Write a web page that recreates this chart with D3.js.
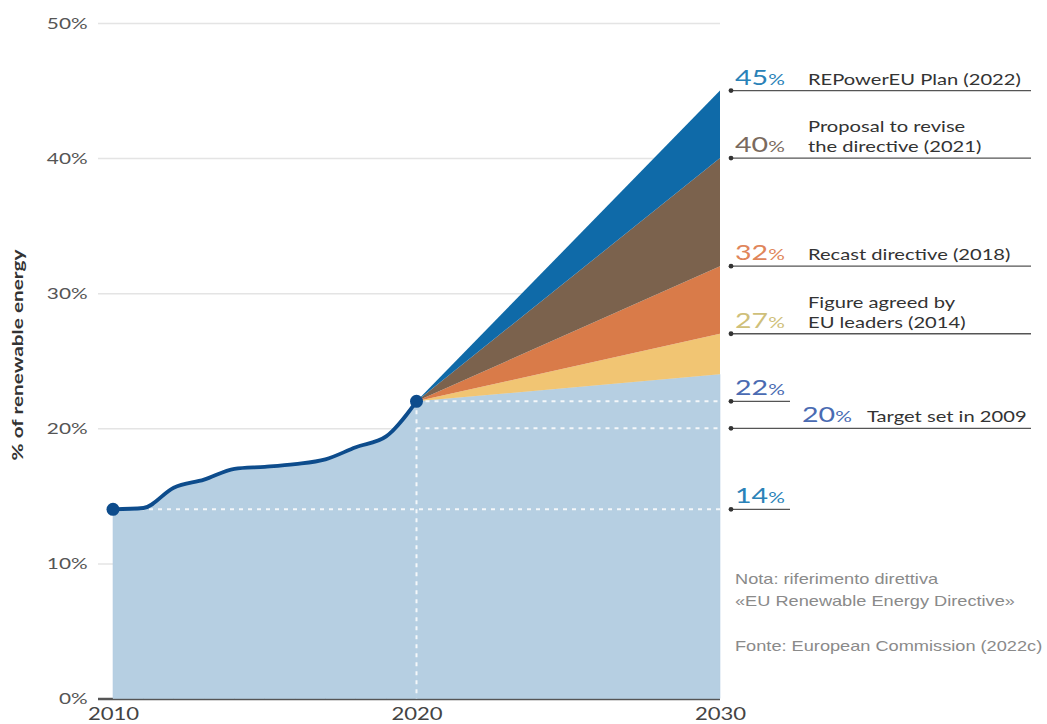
<!DOCTYPE html>
<html>
<head>
<meta charset="utf-8">
<script src="https://cdn.jsdelivr.net/npm/d3@7"></script>
<style>
  body { margin: 0; background: #fff; }
  svg { display: block; font-family: Lato, "Open Sans", sans-serif; }
</style>
</head>
<body>
<svg id="chart" width="1047" height="724"></svg>
<script>
// Quota di energia rinnovabile nell'UE: serie storica e obiettivi al 2030

// Serie storica (%)
const years = [2010, 2011, 2012, 2013, 2014, 2015, 2016, 2017, 2018, 2019, 2020];
const shares = [14.0, 14.1, 15.6, 16.2, 17.0, 17.15, 17.35, 17.7, 18.6, 19.4, 22.0];

// Scenari al 2030
const targetYears = [2020, 2030];
const base2030 = 24;
const targetValues = [27, 32, 40, 45];
const targetColors = ["#f1c573", "#d97b49", "#7b624d", "#0f6aa8"];

// Etichette a destra
const annoValues = [45, 40, 32, 27, 22, 20, 14];
const annoTexts = [
  ["REPowerEU Plan (2022)"],
  ["Proposal to revise", "the directive (2021)"],
  ["Recast directive (2018)"],
  ["Figure agreed by", "EU leaders (2014)"],
  [],
  ["Target set in 2009"],
  []
];
const annoColors = ["#2a82b8", "#7a6a5e", "#e0855a", "#cfc07a", "#4a6bb2", "#4a6bb2", "#2a82b8"];

const yTicks = [0, 10, 20, 30, 40, 50];
const xTicks = [2010, 2020, 2030];

// i testi del grafico sono leggermente allargati in orizzontale
const stretch = 1.3;

const svg = d3.select("#chart");

const x = d3.scaleLinear().domain([2010, 2030]).range([113, 720]);
const y = d3.scaleLinear().domain([0, 50]).range([698.5, 23]);
const gridLeft = 98;

function wideText(parent, tx, ty) {
  return parent.append("text")
    .attr("transform", `translate(${tx},${ty}) scale(${stretch},1)`);
}

// Griglia e asse Y
const yAxis = svg.append("g")
  .attr("transform", `translate(${gridLeft},0)`)
  .call(d3.axisLeft(y)
    .tickValues(yTicks)
    .tickFormat(d => d + "%")
    .tickSize(-(x(2030) - gridLeft))
    .tickPadding(8));
yAxis.select(".domain").remove();
yAxis.selectAll(".tick line")
  .attr("stroke", d => d === 0 ? "#555" : "#e4e4e4")
  .attr("stroke-width", d => d === 0 ? 2.5 : 1.5);
yAxis.selectAll(".tick text")
  .attr("fill", "#555")
  .attr("transform", `scale(${stretch},1)`)
  .style("font-size", "16px")
  .style("font-family", "Lato, sans-serif");

// Area storica sotto la curva
const hist = years.map((yr, i) => ({ year: yr, value: shares[i] }));
const histArea = d3.area()
  .x(d => x(d.year))
  .y0(y(0))
  .y1(d => y(d.value))
  .curve(d3.curveMonotoneX);

svg.append("path")
  .datum(hist)
  .attr("d", histArea)
  .attr("fill", "#b6cfe2")
  .attr("stroke", "#b6cfe2")
  .attr("stroke-width", 0.6);

// Base della proiezione 2020-2030
const last = shares[shares.length - 1];
const baseData = [{ year: targetYears[0], value: last }, { year: targetYears[1], value: base2030 }];
svg.append("path")
  .datum(baseData)
  .attr("d", d3.area().x(d => x(d.year)).y0(y(0)).y1(d => y(d.value)))
  .attr("fill", "#b6cfe2")
  .attr("stroke", "#b6cfe2")
  .attr("stroke-width", 0.6);

// Ventagli degli obiettivi
const wedgeArea = d3.area()
  .x(d => x(d.year))
  .y0(d => y(d.lo))
  .y1(d => y(d.hi));

let prev = base2030;
targetValues.forEach((v, i) => {
  const data = [
    { year: targetYears[0], lo: last, hi: last },
    { year: targetYears[1], lo: prev, hi: v }
  ];
  svg.append("path")
    .datum(data)
    .attr("d", wedgeArea)
    .attr("fill", targetColors[i]);
  prev = v;
});

// Linee tratteggiate bianche
const dash = svg.append("g")
  .attr("stroke", "#fff")
  .attr("stroke-width", 2)
  .attr("stroke-dasharray", "4,5")
  .attr("opacity", 0.85);
dash.append("line")
  .attr("x1", x(2010)).attr("x2", x(2030))
  .attr("y1", y(shares[0])).attr("y2", y(shares[0]));
dash.append("line")
  .attr("x1", x(2020)).attr("x2", x(2030))
  .attr("y1", y(last)).attr("y2", y(last));
dash.append("line")
  .attr("x1", x(2020)).attr("x2", x(2030))
  .attr("y1", y(20)).attr("y2", y(20));
dash.append("line")
  .attr("x1", x(2020)).attr("x2", x(2020))
  .attr("y1", y(last)).attr("y2", y(0));

// Curva storica
const line = d3.line()
  .x(d => x(d.year))
  .y(d => y(d.value))
  .curve(d3.curveMonotoneX);

svg.append("path")
  .datum(hist)
  .attr("d", line)
  .attr("fill", "none")
  .attr("stroke", "#0d4c8c")
  .attr("stroke-width", 3.8)
  .attr("stroke-linecap", "round");

svg.selectAll(".end-dot")
  .data([hist[0], hist[hist.length - 1]])
  .enter()
  .append("circle")
  .attr("class", "end-dot")
  .attr("cx", d => x(d.year))
  .attr("cy", d => y(d.value))
  .attr("r", 6.5)
  .attr("fill", "#0d4c8c");

// Asse X
const xAxis = svg.append("g")
  .attr("transform", `translate(0,${y(0) + 9})`)
  .call(d3.axisBottom(x).tickValues(xTicks).tickFormat(d3.format("d")).tickSize(0).tickPadding(0));
xAxis.select(".domain").remove();
xAxis.selectAll(".tick text")
  .attr("fill", "#444")
  .attr("transform", `scale(${stretch},1)`)
  .style("font-size", "17px")
  .style("font-family", "Lato, sans-serif");

// Titolo asse Y
svg.append("text")
  .attr("transform", `translate(23,355) rotate(-90) scale(${stretch},1)`)
  .attr("text-anchor", "middle")
  .attr("fill", "#333")
  .style("font-size", "16px")
  .style("font-weight", "bold")
  .text("% of renewable energy");

// Annotazioni a destra
const dotX = 731;
const anno = svg.append("g");
annoValues.forEach((v, i) => {
  const ly = y(v);
  const short = annoTexts[i].length === 0;
  const isTarget = v === 20;
  const lineEnd = short ? 790 : 1031;

  anno.append("line")
    .attr("x1", dotX).attr("x2", lineEnd)
    .attr("y1", ly).attr("y2", ly)
    .attr("stroke", "#555")
    .attr("stroke-width", 1.3);
  anno.append("circle")
    .attr("cx", dotX).attr("cy", ly)
    .attr("r", 2.4)
    .attr("fill", "#333");

  const num = wideText(anno, isTarget ? 802 : 735, ly - 6)
    .attr("fill", annoColors[i]);
  num.append("tspan")
    .style("font-size", "22px")
    .text(v);
  num.append("tspan")
    .style("font-size", "16px")
    .text("%");

  const textX = isTarget ? 867 : 808;
  const n = annoTexts[i].length;
  annoTexts[i].forEach((t, j) => {
    wideText(anno, textX, ly - 6 - (n - 1 - j) * 20)
      .attr("fill", "#333")
      .style("font-size", "15.5px")
      .text(t);
  });
});

// Nota e fonte
const notes = [
  { text: "Nota: riferimento direttiva", y: 584 },
  { text: "\u00abEU Renewable Energy Directive\u00bb", y: 606 },
  { text: "Fonte: European Commission (2022c)", y: 651 }
];
notes.forEach(d => {
  wideText(svg, 735, d.y)
    .attr("fill", "#8a8a8a")
    .style("font-family", "'Liberation Sans', Arial, sans-serif")
    .style("font-size", "14px")
    .text(d.text);
});
</script>
</body>
</html>
